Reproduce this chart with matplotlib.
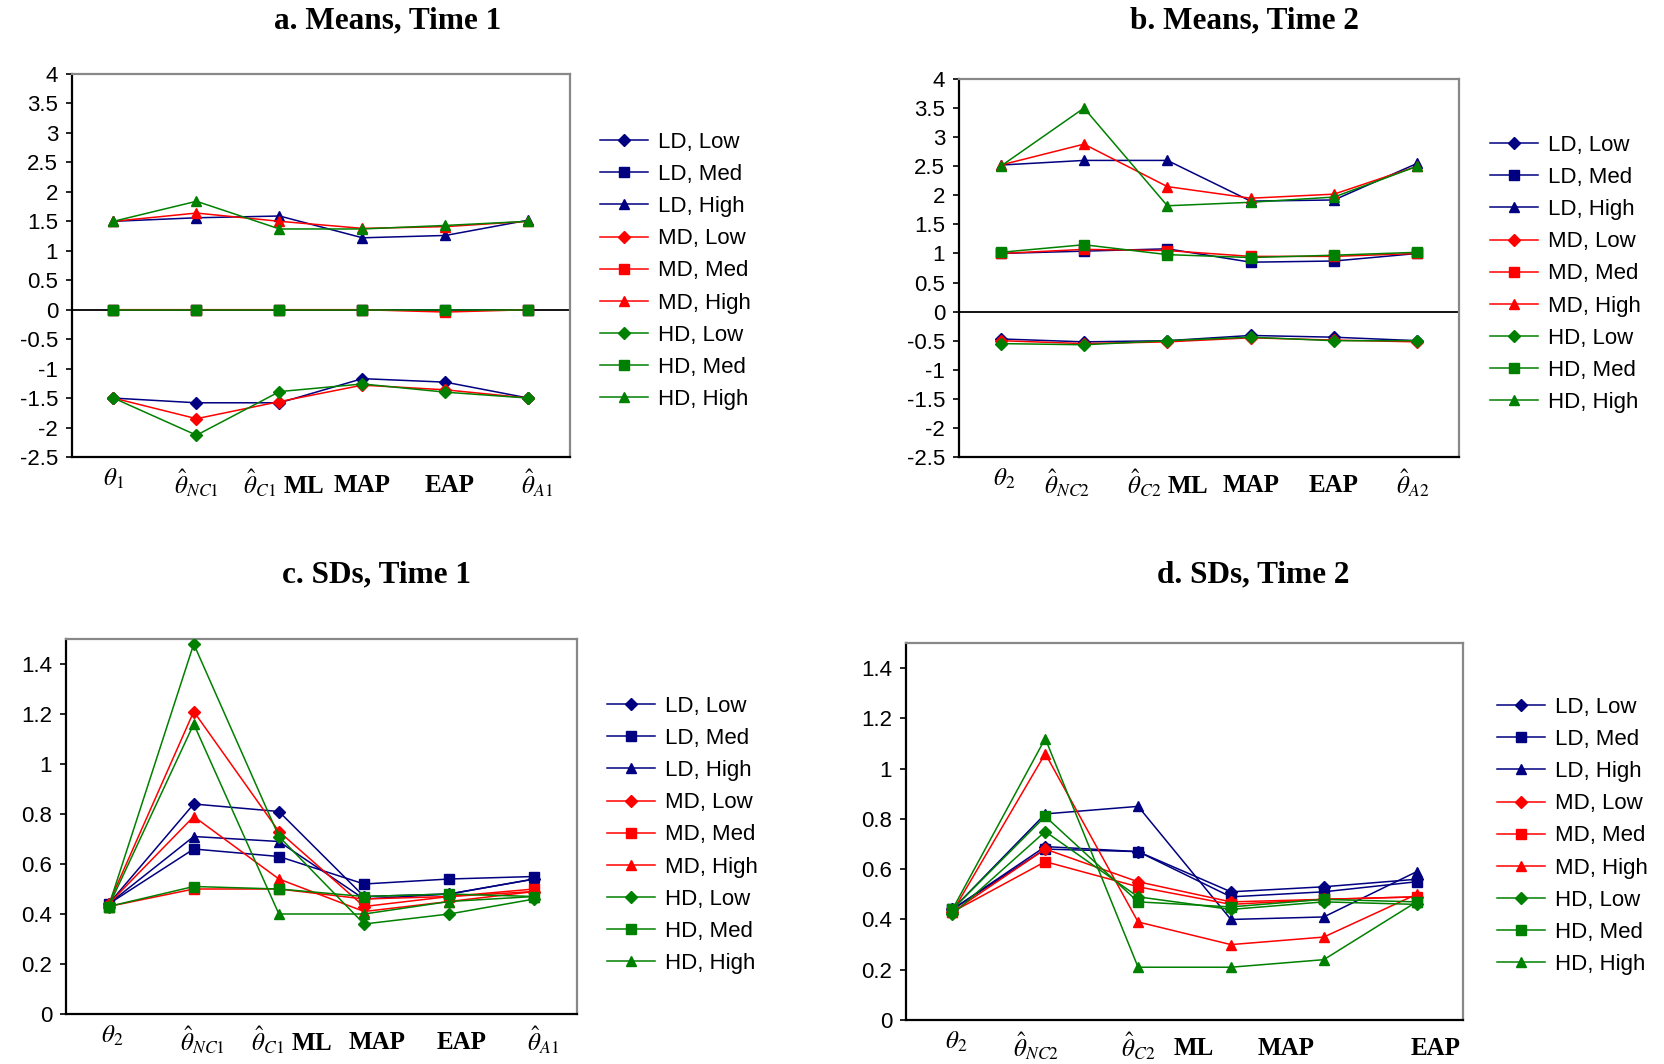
import numpy as np
import matplotlib
matplotlib.use("Agg")
import matplotlib.pyplot as plt
from matplotlib.transforms import ScaledTranslation

plt.rcParams['font.family'] = ['Liberation Sans', 'DejaVu Sans']
plt.rcParams['mathtext.fontset'] = 'stix'
plt.rcParams['axes.unicode_minus'] = False

# series names, colours, markers
series = ["LD, Low", "LD, Med", "LD, High",
          "MD, Low", "MD, Med", "MD, High",
          "HD, Low", "HD, Med", "HD, High"]
colors = ["#000080"] * 3 + ["#ff0000"] * 3 + ["#008000"] * 3
markers = ["D", "s", "^"] * 3

# a. Means, Time 1
means_t1 = [
    [-1.50, -1.58, -1.58, -1.17, -1.23, -1.50],
    [0.00, 0.00, 0.00, 0.00, 0.00, 0.00],
    [1.50, 1.56, 1.59, 1.22, 1.26, 1.52],
    [-1.50, -1.85, -1.56, -1.28, -1.36, -1.50],
    [0.00, 0.00, 0.00, 0.00, -0.04, 0.00],
    [1.50, 1.64, 1.50, 1.38, 1.41, 1.50],
    [-1.50, -2.13, -1.39, -1.26, -1.40, -1.50],
    [0.00, 0.00, 0.00, 0.00, 0.00, 0.00],
    [1.50, 1.84, 1.37, 1.37, 1.43, 1.50],
]

# b. Means, Time 2
means_t2 = [
    [-0.47, -0.52, -0.50, -0.41, -0.44, -0.50],
    [1.00, 1.04, 1.08, 0.85, 0.87, 1.00],
    [2.52, 2.60, 2.60, 1.90, 1.92, 2.55],
    [-0.50, -0.55, -0.52, -0.45, -0.49, -0.52],
    [1.00, 1.07, 1.05, 0.95, 0.95, 1.00],
    [2.52, 2.88, 2.15, 1.95, 2.02, 2.50],
    [-0.55, -0.57, -0.50, -0.44, -0.50, -0.50],
    [1.02, 1.15, 0.98, 0.93, 0.97, 1.02],
    [2.50, 3.50, 1.82, 1.88, 1.97, 2.50],
]

# c. SDs, Time 1
sds_t1 = [
    [0.44, 0.84, 0.81, 0.47, 0.48, 0.54],
    [0.44, 0.66, 0.63, 0.52, 0.54, 0.55],
    [0.44, 0.71, 0.69, 0.46, 0.48, 0.54],
    [0.44, 1.21, 0.73, 0.43, 0.47, 0.49],
    [0.43, 0.50, 0.50, 0.46, 0.47, 0.50],
    [0.44, 0.79, 0.54, 0.41, 0.45, 0.49],
    [0.43, 1.48, 0.71, 0.36, 0.40, 0.46],
    [0.43, 0.51, 0.50, 0.47, 0.48, 0.47],
    [0.43, 1.16, 0.40, 0.40, 0.45, 0.47],
]

# d. SDs, Time 2
sds_t2 = [
    [0.44, 0.69, 0.67, 0.51, 0.53, 0.56],
    [0.44, 0.68, 0.67, 0.49, 0.51, 0.55],
    [0.44, 0.82, 0.85, 0.40, 0.41, 0.59],
    [0.43, 0.68, 0.55, 0.47, 0.48, 0.49],
    [0.43, 0.63, 0.53, 0.46, 0.48, 0.49],
    [0.43, 1.06, 0.39, 0.30, 0.33, 0.50],
    [0.42, 0.75, 0.49, 0.44, 0.47, 0.46],
    [0.44, 0.81, 0.47, 0.45, 0.48, 0.47],
    [0.44, 1.12, 0.21, 0.21, 0.24, 0.47],
]

# x tick labels (and where the original put them)
labels_a = [r"$\theta_1$", r"$\hat{\theta}_{NC1}$", r"$\hat{\theta}_{C1}$ ML", "MAP", "EAP", r"$\hat{\theta}_{A1}$"]
labels_b = [r"$\theta_2$", r"$\hat{\theta}_{NC2}$", r"$\hat{\theta}_{C2}$ ML", "MAP", "EAP", r"$\hat{\theta}_{A2}$"]
labels_c = [r"$\theta_2$", r"$\hat{\theta}_{NC1}$", r"$\hat{\theta}_{C1}$ ML", "MAP", "EAP", r"$\hat{\theta}_{A1}$"]
labels_d = [r"$\theta_2$", r"$\hat{\theta}_{NC2}$", r"$\hat{\theta}_{C2}$", "ML", "MAP", "EAP"]
tickpos_a = [0.0, 1.0, 2.05, 3.0, 4.05, 5.1]
tickpos_b = [0.04, 0.8, 2.0, 3.0, 4.0, 4.95]
tickpos_c = [0.04, 1.1, 2.15, 3.15, 4.15, 5.1]
tickpos_d = [0.04, 0.9, 2.0, 2.6, 3.6, 5.2]

W, H = 1665, 1064
fig = plt.figure(figsize=(W / 100, H / 100), dpi=100)


def rect(l, r, t, b):
    return [l / W, 1 - b / H, (r - l) / W, (b - t) / H]


def draw_panel(box, data, labels, tickpos, ylim, yticks, ylabels, title, title_xy, leg_xy, zero_line):
    ax = fig.add_axes(rect(*box))
    x = np.arange(6)
    if zero_line:
        ax.axhline(0, color="black", lw=1.3, zorder=1)
    for vals, name, c, m in zip(data, series, colors, markers):
        ax.plot(x, vals, color=c, marker=m, lw=1.1,
                markersize=7.5 if m != "D" else 6.5, label=name, zorder=3)
    ax.set_xlim(-0.5, 5.5)
    ax.set_ylim(*ylim)
    ax.set_yticks(yticks)
    ax.set_yticklabels(ylabels, fontsize=16)
    ax.set_xticks(tickpos)
    ax.set_xticklabels(labels, fontsize=18, fontfamily="Liberation Serif", fontweight="bold")
    ax.tick_params(axis="x", length=0, pad=7)
    ax.tick_params(axis="y", length=4, width=1.2, pad=6)
    # plain-text labels sit a little lower than the hatted ones
    for lab in ax.get_xticklabels():
        if "$" not in lab.get_text():
            lab.set_transform(lab.get_transform() + ScaledTranslation(0, -5 / 72, fig.dpi_scale_trans))
    for s in ["left", "bottom"]:
        ax.spines[s].set_color("black")
        ax.spines[s].set_linewidth(1.6)
    for s in ["top", "right"]:
        ax.spines[s].set_color("#888888")
        ax.spines[s].set_linewidth(1.6)
    fig.text(title_xy[0] / W, 1 - title_xy[1] / H, title, ha="center", va="center",
             fontsize=22.5, fontweight="bold", fontfamily="Liberation Serif")
    fig.legend(handles=ax.get_lines()[-9:], labels=series, loc="upper left",
               bbox_to_anchor=(leg_xy[0] / W, 1 - leg_xy[1] / H),
               frameon=False, fontsize=16, handlelength=2.15, handletextpad=0.48,
               labelspacing=0.5, borderpad=0, borderaxespad=0)
    return ax


mean_ticks = np.arange(-2.5, 4.01, 0.5)
mean_labels = ["%g" % v for v in mean_ticks]
sd_ticks = np.arange(0, 1.41, 0.2)
sd_labels = ["%g" % round(v, 1) for v in sd_ticks]

draw_panel((72, 570, 74, 457), means_t1, labels_a, tickpos_a, (-2.5, 4), mean_ticks, mean_labels,
           "a. Means, Time 1", (388, 21), (600, 132), True)
draw_panel((959, 1459, 79, 457), means_t2, labels_b, tickpos_b, (-2.5, 4), mean_ticks, mean_labels,
           "b. Means, Time 2", (1245, 21), (1490, 135), True)
draw_panel((66, 577, 639, 1014), sds_t1, labels_c, tickpos_c, (0, 1.5), sd_ticks, sd_labels,
           "c. SDs, Time 1", (377, 575), (607, 696), False)
draw_panel((906, 1463, 643, 1020), sds_t2, labels_d, tickpos_d, (0, 1.5), sd_ticks, sd_labels,
           "d. SDs, Time 2", (1253, 575), (1497, 697), False)

fig.savefig("out.png", dpi=100)
